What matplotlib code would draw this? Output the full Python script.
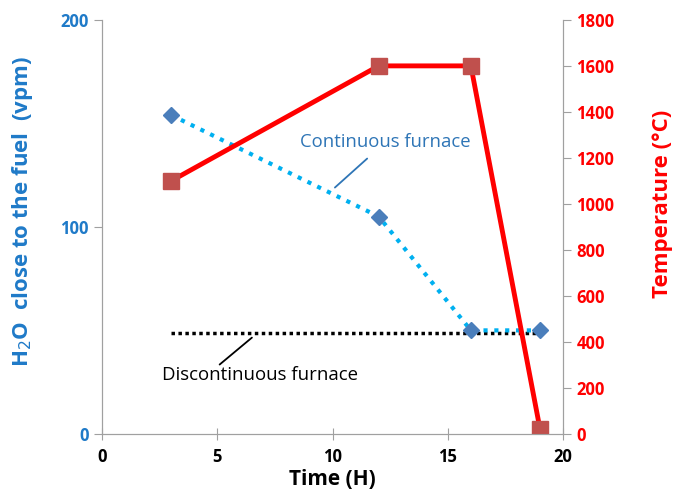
import matplotlib.pyplot as plt

time_h = [3, 12, 16, 19]
h2o_vpm = [154, 105, 50, 50]
temp_c = [1100, 1600, 1600, 20]
disc_x = [3, 18.9]
disc_vpm = [48.5, 48.5]

blue = '#1f7ac8'
red = '#ff0000'

plt.rcParams['font.family'] = ['Open Sans', 'DejaVu Sans']

fig = plt.figure(figsize=(6.76, 4.97), dpi=100)
ax = fig.add_axes([0.151, 0.127, 0.682, 0.833])
ax2 = ax.twinx()

ax.plot(time_h, h2o_vpm, linestyle=(0, (1, 1.6)), color='#00b0f0', linewidth=3,
        marker='D', markersize=8, markerfacecolor='#4a7ebb', markeredgecolor='#4a7ebb', zorder=3)
ax.plot(disc_x, disc_vpm, linestyle=(0, (1, 1)), color='black', linewidth=2.5, zorder=2)
ax2.plot(time_h, temp_c, color=red, linewidth=3.5, marker='s', markersize=11,
         markerfacecolor='#c0504d', markeredgecolor='#c0504d')

ax.set_xlim(0, 20)
ax.set_ylim(0, 200)
ax2.set_ylim(0, 1800)
ax.set_xticks([0, 5, 10, 15, 20])
ax.set_yticks([0, 100, 200])
ax2.set_yticks(range(0, 1801, 200))

for a in (ax, ax2):
    a.spines['top'].set_visible(False)
    for s in ('left', 'right', 'bottom'):
        a.spines[s].set_color('#a0a0a0')

ax.tick_params(axis='x', direction='inout', length=8, color='#a0a0a0', labelsize=12, pad=6)
ax.tick_params(axis='y', direction='out', length=6, color='#a0a0a0', labelsize=12, labelcolor=blue)
ax2.tick_params(axis='y', direction='out', length=6, color='#a0a0a0', labelsize=12, labelcolor=red)
for lab in ax.get_xticklabels() + ax.get_yticklabels() + ax2.get_yticklabels():
    lab.set_fontweight('bold')

ax.set_xlabel('Time (H)', fontsize=15, fontweight='bold', labelpad=2)
ax.set_ylabel('H$_2$O  close to the fuel  (vpm)', fontsize=16, fontweight='bold', color=blue)
ax2.set_ylabel('Temperature (°C)', fontsize=16, fontweight='bold', color=red)
ax.yaxis.set_label_coords(-0.145, 0.536)
ax2.yaxis.set_label_coords(1.193, 0.556)

# labels and their leader lines
ax.text(8.6, 141, 'Continuous furnace', fontsize=13.3, color='#2e75b6', ha='left', va='center')
ax.annotate('', xy=(10.1, 119), xytext=(11.5, 133),
            arrowprops=dict(arrowstyle='-', color='#2e75b6', lw=1.3, shrinkA=0, shrinkB=0))
ax.text(2.6, 28.5, 'Discontinuous furnace', fontsize=13.4, color='black', ha='left', va='center')
ax.annotate('', xy=(6.5, 46.5), xytext=(5.1, 33.5),
            arrowprops=dict(arrowstyle='-', color='black', lw=1.3, shrinkA=0, shrinkB=0))

fig.savefig('out.png', dpi=100)
